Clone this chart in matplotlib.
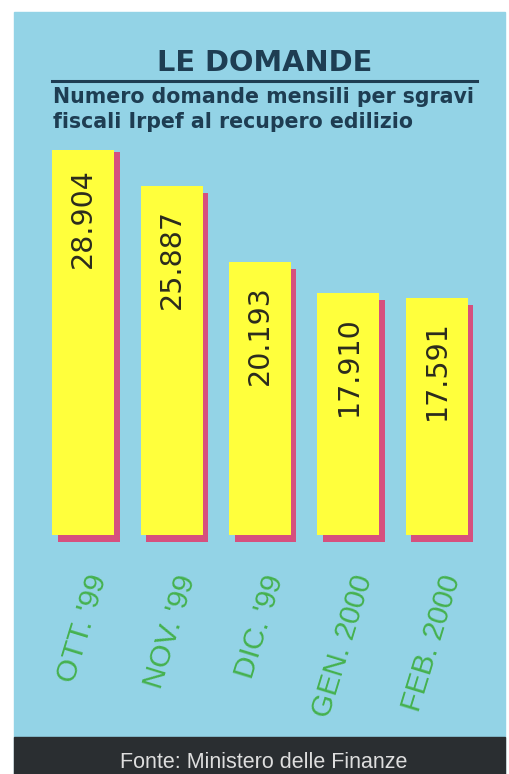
import matplotlib.pyplot as plt
from matplotlib.patches import Rectangle
from matplotlib.transforms import ScaledTranslation

plt.rcParams['font.family'] = ['Liberation Sans', 'DejaVu Sans']

months = ['OTT. \'99', 'NOV. \'99', 'DIC. \'99', 'GEN. 2000', 'FEB. 2000']
domande = [28904, 25887, 20193, 17910, 17591]
value_labels = ['28.904', '25.887', '20.193', '17.910', '17.591']

W, H = 509, 774
fig = plt.figure(figsize=(W / 100, H / 100), dpi=100)
fig.patch.set_facecolor('white')

# light blue panel and dark footer strip
fig.add_artist(Rectangle((14 / W, 0), 1 - 18 / W, 1 - 12 / H,
                         transform=fig.transFigure, color='#93d3e6', zorder=0))
fig.add_artist(Rectangle((14 / W, 0), 1 - 18 / W, 37 / H,
                         transform=fig.transFigure, color='#2a2e31', zorder=1))
fig.text(264 / W, 1 - 763 / H, 'Fonte: Ministero delle Finanze',
         color='#dedede', fontsize=15.5, ha='center', va='center')

# title block
navy = '#1e3d52'
fig.text(265 / W, 1 - 63 / H, 'LE DOMANDE', color=navy, family='DejaVu Sans',
         fontsize=20.8, fontweight='bold', ha='center', va='center')
fig.add_artist(plt.Line2D([52 / W, 477 / W], [1 - 81 / H, 1 - 81 / H],
                          transform=fig.transFigure, color=navy, lw=2.2))
fig.text(53 / W, 1 - 97 / H, 'Numero domande mensili per sgravi',
         color=navy, family='DejaVu Sans', fontsize=14.8, fontweight='bold',
         va='center')
fig.text(53 / W, 1 - 122 / H, 'fiscali Irpef al recupero edilizio',
         color=navy, family='DejaVu Sans', fontsize=14.8, fontweight='bold',
         va='center')

ax = fig.add_axes([39 / W, 1 - 535 / H, 442 / W, 385 / H])
ax.set_facecolor('none')
x = list(range(len(months)))

shadow = ax.transData + ScaledTranslation(0.055, -0.07, fig.dpi_scale_trans)
sh = ax.bar(x, domande, width=0.70, color='#d6507e', zorder=1)
for p in sh:
    p.set_transform(shadow)
    p.set_clip_on(False)
ax.bar(x, domande, width=0.70, color='#ffff3c', zorder=2)

val_off = ScaledTranslation(0, -0.23, fig.dpi_scale_trans)
for i, (v, lab) in enumerate(zip(domande, value_labels)):
    ax.text(i, v, lab, transform=ax.transData + val_off, rotation=90,
            ha='center', va='top', family='DejaVu Sans', fontsize=20.5,
            color='#2b2b1e', zorder=3)

lab_off = ScaledTranslation(0.16, 0, fig.dpi_scale_trans)
for i, m in enumerate(months):
    ax.text(i, -0.105, m, transform=ax.get_xaxis_transform() + lab_off,
            rotation=73, rotation_mode='anchor', ha='right', va='center',
            fontsize=21.5, color='#45b14e', clip_on=False)

ax.set_xlim(-0.5, 4.5)
ax.set_ylim(0, 28519)
ax.axis('off')

fig.savefig('out.png', dpi=100)
